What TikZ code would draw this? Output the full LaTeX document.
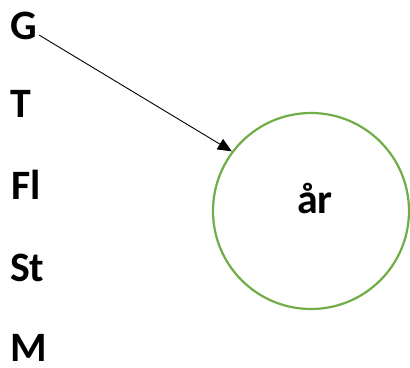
\documentclass[tikz,border=0pt]{standalone}
\usepackage{fontspec}
\setmainfont{Carlito}
\usetikzlibrary{arrows.meta}
\definecolor{ogreen}{HTML}{70AD47}
\tikzset{
  bigfont/.style={font=\fontsize{42}{42}\selectfont\bfseries},
  lbl/.style={bigfont, inner sep=0pt, anchor=base west},
  ring/.style={draw=ogreen, line width=2.2bp, circle, minimum size=196bp, inner sep=0pt},
  arr/.style={draw=black, line width=0.9bp, -{Triangle[length=14bp,width=12bp]}}
}
\begin{document}
\begin{tikzpicture}[x=1bp,y=-1bp]
\useasboundingbox (0,0) rectangle (410,368);
\node[lbl] (g) at (10,39) {G};
\node[lbl] (t) at (10,117) {T};
\node[lbl] (fl) at (11,199) {Fl};
\node[lbl] (st) at (10,281) {St};
\node[lbl] (m) at (10,361) {M};
\node[ring] (c) at (311,211) {};
\node[bigfont, inner sep=0pt, anchor=base] (ar) at (315,213) {år};
\coordinate (s) at (39,35);
\draw[arr] (s) -- (c.143);
\end{tikzpicture}
\end{document}
